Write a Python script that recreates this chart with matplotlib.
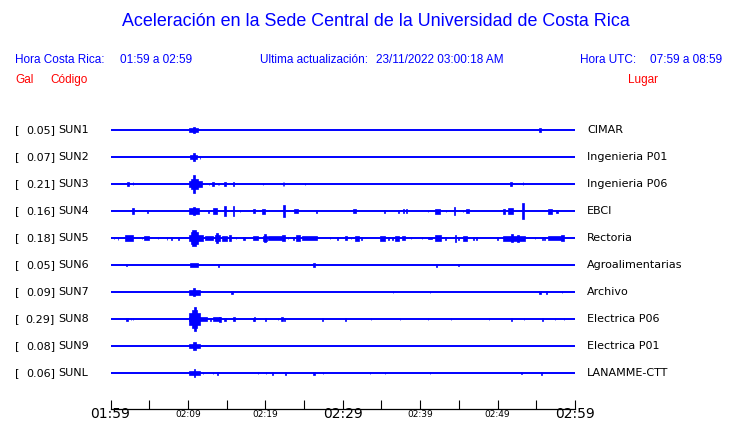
import matplotlib
matplotlib.use('Agg')
import matplotlib.pyplot as plt

# station info
codes = ['SUN1', 'SUN2', 'SUN3', 'SUN4', 'SUN5', 'SUN6', 'SUN7', 'SUN8', 'SUN9', 'SUNL']
gals = [0.05, 0.07, 0.21, 0.16, 0.18, 0.05, 0.09, 0.29, 0.08, 0.06]
places = ['CIMAR', 'Ingenieria P01', 'Ingenieria P06', 'EBCI', 'Rectoria',
          'Agroalimentarias', 'Archivo', 'Electrica P06', 'Electrica P01', 'LANAMME-CTT']

# bursts: (minutes after 01:59, half amplitude, duration in minutes)
sun1 = [(10.7, 2, 1.2), (10.79, 3, 0.15), (55.49, 2, 0.2)]
sun2 = [(10.7, 2, 0.95), (10.79, 4, 0.15), (11.56, 1.5, 0.1)]
sun3 = [(2.26, 2, 0.26), (2.91, 1.5, 0.1), (10.98, 3, 1.68), (10.85, 5, 0.8), (10.79, 9, 0.15),
        (12.73, 1, 0.1), (13.24, 2, 0.26), (13.89, 1, 0.1), (14.02, 1, 0.1), (14.79, 2, 0.26),
        (15.83, 2, 0.13), (19.70, 1, 0.1), (22.29, 2, 0.1), (22.42, 2, 0.1), (25.13, 1, 0.1),
        (51.74, 2, 0.26), (53.29, 1.5, 0.1)]
sun4 = [(2.91, 3, 0.26), (4.84, 1.5, 0.13), (10.8, 3, 1.2), (10.79, 4, 0.3), (12.60, 1.5, 0.13),
        (13.50, 3, 0.6), (14.79, 5, 0.2), (15.83, 5, 0.13), (16.73, 1, 0.1), (18.54, 2, 0.26),
        (19.70, 2.5, 0.39), (22.42, 6, 0.26), (23.97, 2, 0.52), (26.55, 1.5, 0.13), (31.46, 2, 0.39),
        (35.34, 1.5, 0.13), (37.14, 1.5, 0.13), (37.79, 2, 0.13), (38.18, 2, 0.13), (41.02, 1, 0.1),
        (42.18, 2.5, 0.65), (43.35, 1, 0.1), (44.38, 4, 0.13), (45.54, 1, 0.1), (46.06, 2, 0.39),
        (50.81, 2.5, 0.26), (51.61, 3, 0.65), (53.29, 8, 0.26), (56.78, 2.5, 0.52), (57.69, 1.5, 0.2)]
sun5 = [(0.45, 1, 0.1), (0.97, 1.5, 0.1), (2.39, 3, 1.0), (4.07, 1, 0.1), (4.65, 2, 0.65),
        (6.14, 1, 0.1), (7.30, 1.5, 0.1), (7.82, 1.5, 0.13), (8.72, 1.5, 0.13),
        (11.05, 3, 1.8), (10.85, 6, 1.0), (10.79, 8, 0.4), (12.73, 2, 1.05), (13.76, 3, 0.65),
        (13.76, 5, 0.3), (14.73, 2.5, 0.65), (15.44, 3, 0.3), (16.21, 1, 0.1), (17.25, 1.5, 0.26),
        (18.73, 2, 0.65), (19.96, 2.5, 0.52), (19.96, 4, 0.26), (21.25, 1.8, 1.8), (22.29, 3, 0.39),
        (22.93, 1, 0.1), (23.58, 1.5, 0.13), (24.22, 3, 0.52), (25.71, 1.8, 1.9), (28.36, 1, 0.1),
        (29.26, 1.5, 0.13), (30.36, 2, 0.26), (31.07, 1, 0.1), (31.85, 2.5, 0.52), (32.36, 1.5, 0.13),
        (35.08, 2.5, 0.65), (35.85, 1.5, 0.13), (36.37, 1.5, 0.13), (37.02, 2.5, 0.52),
        (37.79, 2, 0.39), (38.82, 1, 0.1), (40.25, 1, 0.1), (41.28, 1, 0.52), (42.31, 3, 0.78),
        (43.22, 1.5, 0.13), (44.51, 3.5, 0.13), (44.90, 1.5, 0.13), (45.80, 2.5, 0.52),
        (46.83, 1.5, 0.13), (47.22, 1.5, 0.13), (49.94, 1.5, 0.13), (52.13, 2.5, 2.84),
        (51.87, 4, 0.3), (52.65, 3.5, 0.3), (54.84, 1, 0.1), (55.75, 1.5, 0.13), (56.01, 1.5, 0.13),
        (57.49, 2, 1.94), (58.33, 3, 0.39)]
sun6 = [(2.13, 1, 0.13), (10.79, 2, 1.04), (13.89, 1.5, 0.13), (26.29, 2, 0.2), (42.05, 1.5, 0.13),
        (44.90, 1, 0.13)]
sun7 = [(10.85, 2.5, 1.42), (10.79, 4, 0.3), (15.70, 1.5, 0.2), (36.5, 1, 0.1), (41.28, 1, 0.1),
        (55.49, 1.5, 0.2), (56.27, 1.5, 0.13), (58.33, 1, 0.1)]
sun8 = [(2.13, 1.5, 0.26), (2.65, 1, 0.1), (2.91, 1, 0.1), (11.3, 2, 2.33), (10.85, 6, 1.3),
        (10.85, 9, 0.65), (10.88, 12, 0.2), (12.86, 1.5, 0.13), (13.7, 2, 0.9), (14.15, 2.5, 0.26),
        (14.79, 1.5, 0.13), (15.96, 2, 0.26), (18.41, 1.5, 0.13), (18.54, 2, 0.13), (19.96, 1.5, 0.13),
        (21.64, 1, 0.1), (22.16, 2, 0.26), (22.42, 1.5, 0.13), (27.33, 1.5, 0.13), (30.30, 1.5, 0.13),
        (33.66, 1, 0.1), (37.40, 1, 0.1), (41.02, 1, 0.1), (43.99, 1, 0.1), (48.90, 1, 0.1),
        (51.74, 1.5, 0.13), (53.42, 1, 0.1), (55.75, 1.5, 0.13), (57.43, 1, 0.1), (58.59, 1, 0.1)]
sun9 = [(10.85, 2, 1.42), (10.85, 4, 0.3)]
sunl = [(10.85, 2, 1.42), (10.85, 4, 0.2), (11.95, 1, 0.1), (13.24, 1, 0.1), (13.76, 1.5, 0.13),
        (19.06, 1, 0.1), (20.09, 1, 0.1), (20.87, 1.5, 0.13), (22.55, 1.5, 0.13), (26.29, 1.5, 0.26),
        (27.45, 1, 0.1), (33.53, 1, 0.1), (35.47, 1, 0.1), (41.28, 1, 0.1), (53.04, 1, 0.1),
        (55.62, 1.5, 0.13)]
traces = [sun1, sun2, sun3, sun4, sun5, sun6, sun7, sun8, sun9, sunl]

# time axis: big labels every 30 min, small ones in between
major_minutes = [0, 30, 60]
major_labels = ['01:59', '02:29', '02:59']
minor_minutes = [5, 10, 15, 20, 25, 35, 40, 45, 50, 55]
minor_labels = ['', '02:09', '', '02:19', '', '', '02:39', '', '02:49', '']

W, H = 740, 423
fig = plt.figure(figsize=(W / 100, H / 100), dpi=100)

def px(x, y):
    return x / W, 1 - y / H

head = dict(family='Liberation Sans', color='blue', fontsize=8.5, va='center')
fig.text(*px(376, 21), 'Aceleración en la Sede Central de la Universidad de Costa Rica',
         family='Liberation Sans', color='blue', fontsize=12.9, ha='center', va='center')
fig.text(*px(15, 60), 'Hora Costa Rica:', **head)
fig.text(*px(120, 60), '01:59 a 02:59', **head)
fig.text(*px(260, 60), 'Ultima actualización:', **head)
fig.text(*px(376, 60), '23/11/2022 03:00:18 AM', **head)
fig.text(*px(580, 60), 'Hora UTC:', **head)
fig.text(*px(650, 60), '07:59 a 08:59', **head)
red = dict(head, color='red')
fig.text(*px(15, 80), 'Gal', **red)
fig.text(*px(50, 80), 'Código', **red)
fig.text(*px(628, 80), 'Lugar', **red)

# axes spans the 60 minutes; y runs in pixel rows so traces sit 27 px apart
ax = fig.add_axes([110.5 / W, (H - 409) / H, 464.5 / W, (409 - 110) / H])
ax.set_xlim(0, 60)
ax.set_ylim(409, 110)

for i, bursts in enumerate(traces):
    y0 = 130 + 27 * i
    ax.hlines(y0, 0, 60, color='blue', lw=1.4)
    for t, a, w in bursts:
        ax.bar(t, 2 * a, width=w, bottom=y0 - a, color='blue', edgecolor='blue', lw=0.5)
    fig.text(*px(15, y0), '[', fontsize=8, va='center')
    fig.text(*px(55, y0), '%.2f]' % gals[i], fontsize=8, va='center', ha='right')
    fig.text(*px(58, y0), codes[i], fontsize=8, va='center')
    fig.text(*px(587, y0), places[i], fontsize=8, va='center')

for s in ['left', 'right', 'top']:
    ax.spines[s].set_visible(False)
ax.spines['bottom'].set_linewidth(0.9)
ax.set_yticks([])
ax.set_xticks(major_minutes)
ax.set_xticklabels(major_labels, fontsize=10)
ax.set_xticks(minor_minutes, minor=True)
ax.set_xticklabels(minor_labels, minor=True, fontsize=6.5)
ax.tick_params(axis='x', which='major', direction='in', length=6.5, width=0.8, pad=-1.5)
ax.tick_params(axis='x', which='minor', direction='in', length=6.5, width=0.8, pad=1)

fig.savefig('out.png', dpi=100)
